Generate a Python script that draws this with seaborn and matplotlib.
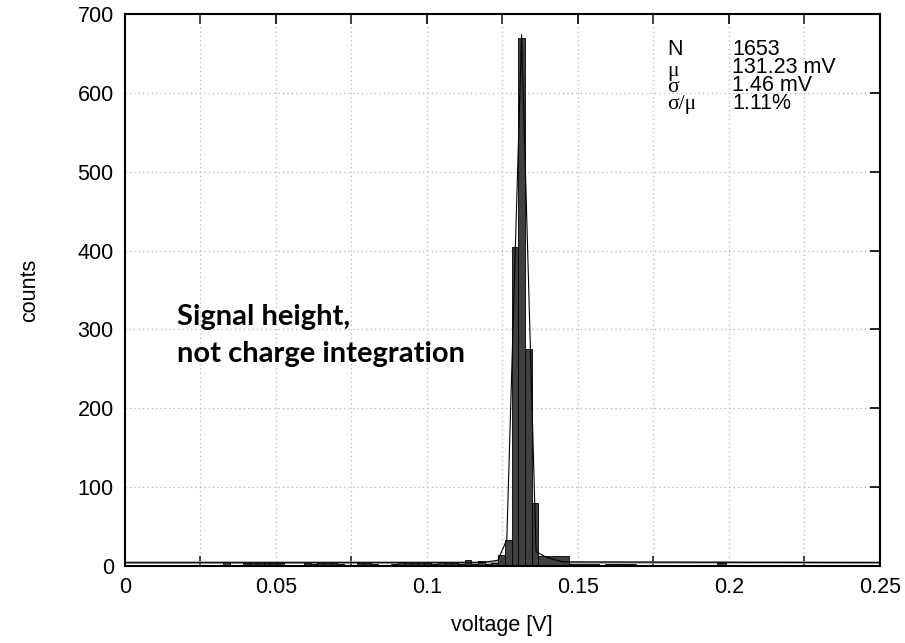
import numpy as np
import pandas as pd
import matplotlib
matplotlib.use("Agg")
import matplotlib.pyplot as plt
import seaborn as sns
from matplotlib.ticker import MultipleLocator

# --- data ---
BIN_W = 0.00222
BIN_START = 0.0304
# counts of the regular bins starting at BIN_START
regular_counts = [1, 5, 1, 0, 3, 3, 3, 3, 4, 4,
                  1, 0, 1, 4, 2, 3, 4, 3, 2, 1,
                  1, 4, 4, 2, 0, 0, 2, 5, 4, 4,
                  4, 4, 2, 5, 4, 3, 2, 7, 2, 6,
                  2, 3, 14, 33, 404, 670, 275, 80]
# wider tail bins (edges after the regular ones)
tail_edges = [0.147, 0.157, 0.1589, 0.1692, 0.1815, 0.190, 0.1962, 0.199]
tail_counts = [13, 2, 0, 2, 1, 1, 0, 3]

# thin fit/guide line over the peak
line_x = [0.0, 0.118, 0.1235, 0.1265, 0.1314, 0.1362, 0.1395, 0.145, 0.25]
line_y = [4, 4, 7, 33, 674, 18, 11, 5, 4]
baseline = 4.5

stats_labels = ["N", "\u03bc", "\u03c3", "\u03c3/\u03bc"]
stats_values = ["1653", "131.23 mV", "1.46 mV", "1.11%"]

x_ticks = [0, 0.05, 0.1, 0.15, 0.2, 0.25]
x_ticklabels = ["0", "0.05", "0.1", "0.15", "0.2", "0.25"]

# build edges / centers
edges = [BIN_START + k * BIN_W for k in range(len(regular_counts) + 1)] + tail_edges
counts = regular_counts + tail_counts
centers = [(a + b) / 2 for a, b in zip(edges[:-1], edges[1:])]
df = pd.DataFrame({"voltage": centers, "counts": counts})

sns.set_theme(style="white")
plt.rcParams['font.family'] = ['Liberation Sans', 'DejaVu Sans']
plt.rcParams['text.color'] = 'black'
plt.rcParams['axes.labelcolor'] = 'black'

FS = 15.5

fig = plt.figure(figsize=(9.05, 6.43), dpi=100)
ax = fig.add_axes([0.138, 0.12, 0.834, 0.858])

grid_kw = dict(color='#b5b5b5', linestyle=(0, (1, 2.5)), linewidth=0.9)
for gx in np.arange(0.025, 0.25, 0.025):
    ax.axvline(gx, zorder=0, **grid_kw)
for gy in range(100, 700, 100):
    ax.axhline(gy, zorder=0, **grid_kw)

ax.axhline(baseline, color='#9a9a9a', linewidth=1.8, zorder=1)

sns.histplot(data=df, x="voltage", weights="counts", bins=list(edges), ax=ax,
             color='#404040', edgecolor='black', linewidth=0.6, alpha=1.0, zorder=2)

sns.lineplot(x=line_x, y=line_y, ax=ax, color='black', linewidth=0.8, zorder=3)

ax.set_xlim(0, 0.25)
ax.set_ylim(0, 700)
ax.set_xticks(x_ticks)
ax.set_xticklabels(x_ticklabels)
ax.set_yticks(range(0, 701, 100))
ax.xaxis.set_minor_locator(MultipleLocator(0.025))
ax.tick_params(axis='both', which='major', direction='in', length=7, width=1.2,
               top=True, right=True, labelsize=FS, pad=8, colors='black')
ax.tick_params(axis='x', which='minor', direction='in', length=7, width=1.2,
               top=True, bottom=True)
for s in ax.spines.values():
    s.set_linewidth(1.5)
    s.set_color('black')

ax.set_xlabel("voltage [V]", fontsize=FS)
ax.set_ylabel("counts", fontsize=FS)
ax.xaxis.set_label_coords(0.5, -0.089)
ax.yaxis.set_label_coords(-0.112, 0.5)

# stats box: one text block per column, tight line spacing as in the reference
top_y = 0.955
step = 0.033
ax.text(0.719, top_y, stats_labels[0], transform=ax.transAxes, fontsize=FS, va='top')
ax.text(0.719, top_y - step - 0.008, "\n".join(stats_labels[1:]), transform=ax.transAxes,
        fontsize=FS, va='top', family=['Liberation Serif'], linespacing=0.84)
ax.text(0.805, top_y, "\n".join(stats_values), transform=ax.transAxes,
        fontsize=FS, va='top', linespacing=0.805)

note_kw = dict(transform=ax.transAxes, fontsize=21, fontweight='bold', va='baseline',
               family=['Lato', 'DejaVu Sans'])
ax.text(0.0685, 0.4366, "Signal height,", **note_kw)
ax.text(0.0685, 0.370, "not charge integration", **note_kw)

fig.savefig("out.png", dpi=100)
